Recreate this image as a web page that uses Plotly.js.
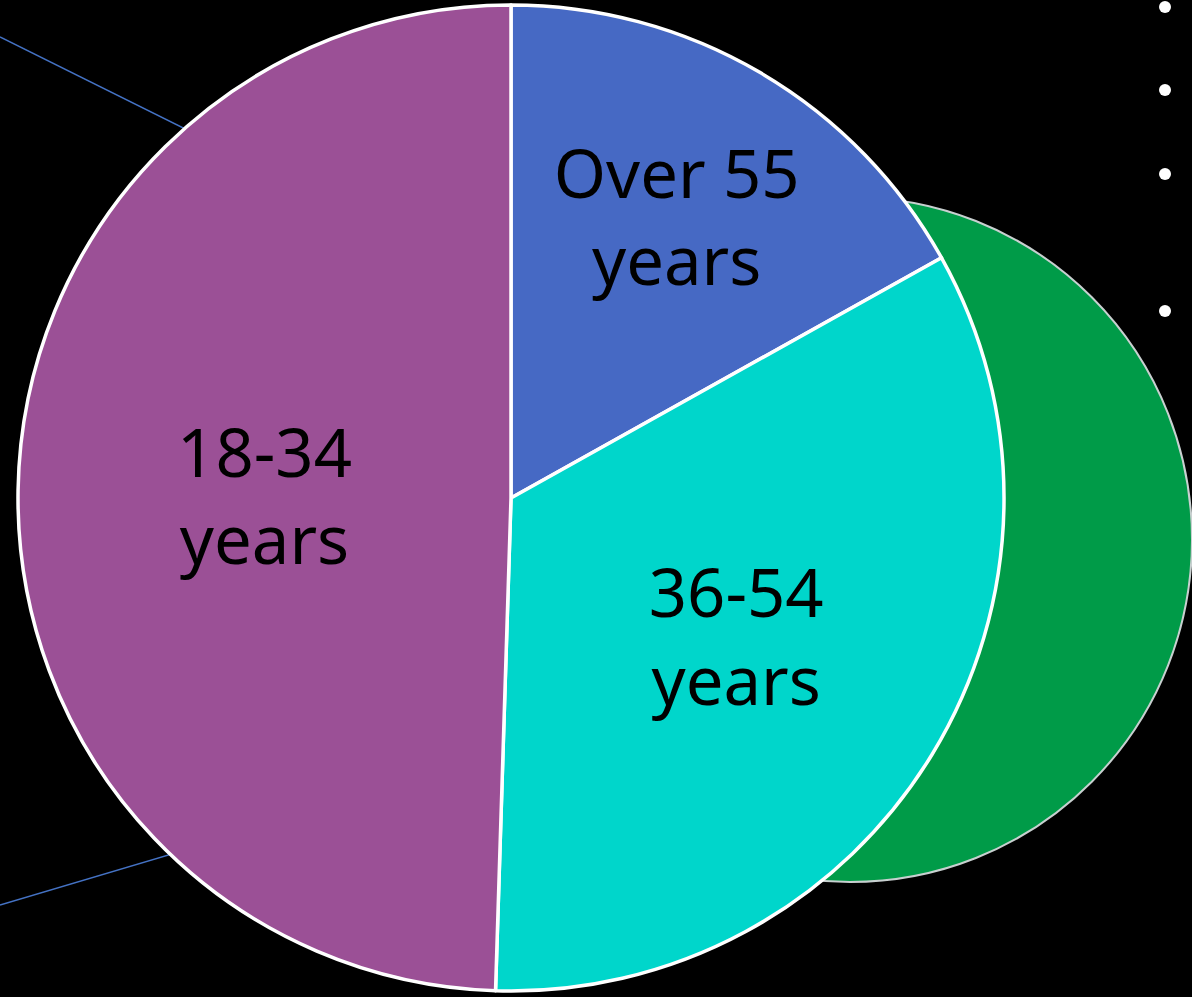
<!DOCTYPE html>
<html>
<head>
<meta charset="utf-8">
<script src="https://cdn.plot.ly/plotly-3.0.1.min.js"></script>
<style>html,body{margin:0;padding:0;background:#000;}#chart{width:1192px;height:997px;}</style>
</head>
<body>
<div id="chart"></div>
<script>
const categories = ["Over 55 years", "36-54 years", "18-34 years"];
const labelText = ["Over 55<br>years", "36-54<br>years", "18-34<br>years"];
const shares = [16.9, 33.6, 49.5];
const sliceColors = ["#4669C4", "#00D6CB", "#9B5096"];

const trace = {
  type: "pie",
  labels: categories,
  values: shares,
  text: labelText,
  textinfo: "text",
  textposition: "inside",
  insidetextorientation: "horizontal",
  sort: false,
  direction: "clockwise",
  rotation: 0,
  hoverinfo: "label+percent",
  marker: {colors: sliceColors, line: {color: "#FFFFFF", width: 3.5}},
  textfont: {family: "Noto Sans, Open Sans, sans-serif", size: 67, color: "#000000"},
  domain: {x: [0.0151, 0.8423], y: [0.006, 0.995]},
  showlegend: false
};

const dots = [7, 90, 174, 311].map(function (py) {
  return {type: "circle", xref: "paper", yref: "paper", layer: "above",
    x0: 1159 / 1192, x1: 1171 / 1192, y0: 1 - (py + 6) / 997, y1: 1 - (py - 6) / 997,
    fillcolor: "#FFFFFF", line: {width: 0}};
});

const layout = {
  width: 1192, height: 997,
  margin: {l: 0, r: 0, t: 0, b: 0},
  paper_bgcolor: "#000000",
  plot_bgcolor: "#000000",
  showlegend: false,
  shapes: [
    {type: "circle", xref: "paper", yref: "paper", layer: "below",
      x0: 508 / 1192, x1: 1192 / 1192, y0: 1 - 882 / 997, y1: 1 - 197 / 997,
      fillcolor: "#009B48", line: {color: "#C8D0D0", width: 2}},
    {type: "line", xref: "paper", yref: "paper", layer: "below",
      x0: 0, y0: 1 - 37 / 997, x1: 300 / 1192, y1: 1 - 186 / 997,
      line: {color: "#4472C4", width: 1.5}},
    {type: "line", xref: "paper", yref: "paper", layer: "below",
      x0: 0, y0: 1 - 905 / 997, x1: 300 / 1192, y1: 1 - 816 / 997,
      line: {color: "#4472C4", width: 1.5}}
  ].concat(dots)
};

Plotly.newPlot("chart", [trace], layout, {displayModeBar: false, staticPlot: true});
</script>
</body>
</html>
